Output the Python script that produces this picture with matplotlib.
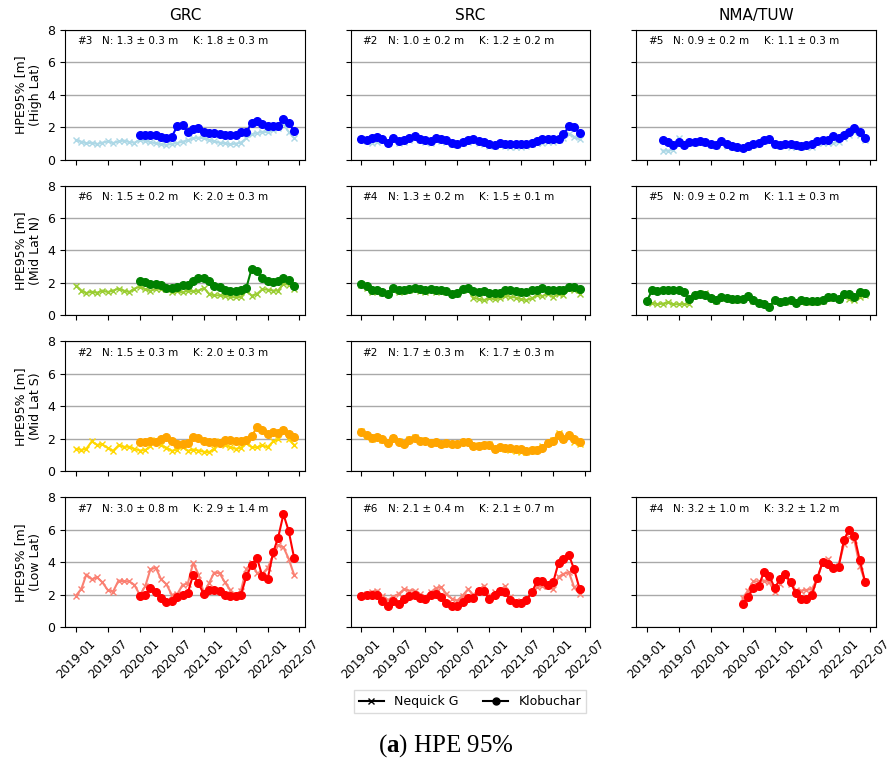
#!/usr/bin/env python

import pandas as pd
import matplotlib
matplotlib.use('Agg')
import matplotlib.pyplot as plt
import matplotlib.dates as mdates
from matplotlib.lines import Line2D

plt.rc("font", family="DejaVu Sans", size=9)
plt.rc("mathtext", fontset="custom", rm="Liberation Serif", bf="Liberation Serif:bold")

centres = ["GRC", "SRC", "NMA/TUW"]
regions = ["High Lat", "Mid Lat N", "Mid Lat S", "Low Lat"]
# (Nequick colour, Klobuchar colour) per region
region_colors = [("lightblue", "blue"), ("yellowgreen", "green"),
                 ("gold", "orange"), ("salmon", "red")]
tick_dates = pd.date_range("2019-01-01", "2022-07-01", freq="6MS")

# ---- High Lat ----
grc_high_n = [1.21,1.10,1.00,1.04,0.96,1.04,1.12,1.02,1.12,1.17,1.08,1.04,1.21,1.15,1.08,1.00,0.94,0.90,0.96,1.02,1.10,
              1.19,1.31,1.35,1.31,1.21,1.12,1.04,1.00,0.94,0.98,1.04,1.31,1.56,1.63,1.71,1.69,1.83,1.92,2.19,1.71,1.33]
grc_high_k = [1.52,1.52,1.52,1.52,1.40,1.35,1.40,2.04,2.10,1.73,1.88,1.94,1.71,1.63,1.63,1.56,1.52,1.52,1.52,1.67,
              1.67,2.27,2.35,2.21,2.04,2.04,2.08,2.52,2.25,1.75]
src_high_n = [1.25,1.15,1.05,1.10,1.20,1.05,1.25,1.05,1.10,1.20,1.30,1.20,1.10,1.05,1.20,1.15,1.10,0.95,0.90,1.00,1.10,
              1.15,1.05,0.95,0.85,0.85,0.90,0.85,0.80,0.80,0.80,0.85,0.95,1.00,1.05,1.10,1.10,1.20,1.35,1.60,1.40,1.25]
src_high_k = [1.29,1.23,1.31,1.38,1.29,1.04,1.35,1.13,1.19,1.33,1.44,1.29,1.21,1.15,1.31,1.27,1.21,1.02,0.98,1.08,1.21,
              1.27,1.15,1.10,0.94,0.92,1.04,0.98,0.98,0.96,0.96,0.98,1.04,1.15,1.25,1.27,1.27,1.29,1.56,2.04,2.00,1.63]
nma_high_n = [0.55,0.55,0.60,1.35,0.95,1.00,1.05,1.10,1.00,0.90,0.85,1.05,0.85,0.75,0.70,0.70,0.80,0.90,1.00,1.15,
              1.20,0.90,0.85,0.90,0.80,0.80,0.75,0.80,0.80,1.00,1.05,1.00,1.00,1.10,1.30,1.50,1.70,1.50,1.20]
nma_high_k = [1.19,1.06,0.88,1.08,0.92,1.08,1.10,1.17,1.10,0.98,0.92,1.15,0.98,0.85,0.75,0.71,0.85,0.96,1.04,1.23,
              1.25,0.98,0.92,0.98,0.94,0.90,0.83,0.90,0.94,1.17,1.21,1.23,1.48,1.31,1.54,1.69,1.96,1.67,1.33]

# ---- Mid Lat N ----
grc_midn_n = [1.84,1.53,1.38,1.46,1.40,1.53,1.44,1.53,1.65,1.53,1.44,1.65,1.77,1.61,1.53,1.61,1.65,1.65,1.42,1.48,1.42,
              1.53,1.48,1.53,1.69,1.32,1.24,1.24,1.20,1.15,1.11,1.15,1.53,1.22,1.32,1.61,1.59,1.53,1.53,1.94,1.90,1.63]
grc_midn_k = [2.14,2.04,1.94,1.94,1.86,1.67,1.69,1.77,1.88,1.90,2.14,2.33,2.31,2.14,1.84,1.77,1.59,1.53,1.53,1.57,
              1.71,2.87,2.76,2.31,2.10,2.06,2.14,2.31,2.19,1.79]
src_midn_n = [1.90,1.70,1.45,1.50,1.40,1.30,1.55,1.45,1.50,1.55,1.60,1.50,1.45,1.55,1.45,1.50,1.45,1.30,1.30,1.55,1.60,
              1.10,1.00,0.95,1.05,1.00,1.05,1.20,1.15,1.10,1.00,0.95,1.05,1.25,1.20,1.30,1.15,1.30,1.25,1.60,1.55,1.35]
src_midn_k = [1.94,1.81,1.59,1.59,1.46,1.32,1.67,1.59,1.55,1.65,1.67,1.61,1.55,1.61,1.55,1.57,1.51,1.34,1.36,1.65,1.67,
              1.48,1.46,1.48,1.38,1.36,1.38,1.55,1.55,1.48,1.44,1.44,1.57,1.57,1.67,1.59,1.59,1.59,1.59,1.77,1.73,1.63]
nma_midn_n = [0.91,0.75,0.70,0.72,0.80,0.68,0.70,0.70,0.70,1.25,1.35,1.40,1.10,0.90,1.10,1.05,1.00,0.95,1.00,1.15,0.90,
              0.75,0.70,0.60,0.90,0.80,0.85,0.90,0.75,0.80,0.80,0.85,0.85,0.90,1.05,1.05,1.00,1.20,1.00,0.95,1.15,1.25]
nma_midn_k = [0.91,1.57,1.48,1.57,1.59,1.57,1.59,1.42,1.01,1.24,1.32,1.26,1.07,0.95,1.13,1.07,1.01,0.99,1.03,1.22,0.95,
              0.74,0.68,0.54,0.95,0.85,0.91,0.97,0.76,0.97,0.87,0.87,0.89,0.95,1.11,1.13,1.03,1.30,1.32,1.15,1.44,1.36]

# ---- Mid Lat S ----
grc_mids_n = [1.38,1.32,1.38,1.84,1.63,1.65,1.44,1.26,1.59,1.51,1.51,1.38,1.28,1.30,1.55,1.92,1.59,1.46,1.26,1.34,1.51,
              1.26,1.34,1.28,1.20,1.18,1.38,1.88,1.59,1.51,1.38,1.44,1.75,1.48,1.48,1.59,1.48,1.84,1.96,2.56,1.96,1.63]
grc_mids_k = [1.79,1.79,1.88,1.79,2.00,2.10,1.84,1.71,1.65,1.75,2.12,2.08,1.88,1.79,1.79,1.73,1.90,1.94,1.84,1.84,
              1.90,2.16,2.72,2.52,2.29,2.41,2.37,2.56,2.27,2.14]
src_mids_n = [2.50,2.15,2.00,2.10,1.95,1.80,2.05,1.85,1.75,2.00,2.10,1.90,1.85,1.80,1.80,1.70,1.75,1.65,1.70,1.80,1.80,
              1.55,1.60,1.60,1.65,1.40,1.45,1.35,1.30,1.25,1.20,1.20,1.25,1.40,1.55,1.75,1.90,2.35,2.00,2.15,1.80,1.65]
src_mids_k = [2.41,2.21,2.04,2.12,1.96,1.73,2.08,1.79,1.71,1.92,2.08,1.86,1.84,1.77,1.79,1.69,1.75,1.65,1.69,1.79,1.79,
              1.55,1.57,1.63,1.59,1.38,1.48,1.44,1.46,1.38,1.36,1.28,1.30,1.34,1.44,1.75,1.84,2.23,1.98,2.23,1.98,1.79]

# ---- Low Lat ----
grc_low_n = [1.94,2.37,3.24,2.95,3.07,2.76,2.29,2.19,2.87,2.82,2.82,2.60,1.98,2.52,3.55,3.67,2.95,2.64,2.00,2.02,2.60,
             2.68,3.96,3.24,2.10,2.74,3.36,3.32,2.76,2.29,1.98,2.25,3.59,3.94,3.34,3.28,3.65,4.41,5.03,4.93,4.21,3.22]
grc_low_k = [1.90,1.96,2.43,2.16,1.79,1.53,1.59,1.84,1.96,2.10,3.24,2.70,2.02,2.31,2.29,2.25,1.98,1.92,1.92,1.98,
             3.13,3.84,4.25,3.15,2.97,4.60,5.48,6.95,5.92,4.27]
src_low_n = [1.94,2.04,2.19,2.25,1.92,1.67,1.88,2.04,2.33,2.25,2.25,2.04,1.88,2.14,2.41,2.45,2.04,1.75,1.63,1.94,2.33,
             2.00,2.25,2.56,1.94,2.14,2.25,2.52,1.84,1.53,1.63,1.69,2.14,2.45,2.56,2.56,2.35,3.11,3.28,3.38,2.45,2.04]
src_low_k = [1.94,2.00,2.00,2.00,1.63,1.30,1.63,1.42,1.73,1.92,1.98,1.79,1.75,2.00,2.04,1.88,1.51,1.30,1.30,1.57,1.77,
             1.81,2.25,2.21,1.71,2.00,2.25,2.14,1.67,1.48,1.51,1.69,2.14,2.82,2.87,2.60,2.76,3.98,4.19,4.45,3.55,2.37]
nma_low_n = [1.79,2.25,2.82,2.82,2.87,2.76,2.14,2.66,3.18,2.66,2.29,2.25,2.29,2.35,2.97,4.00,4.21,3.69,3.79,5.13,
             5.55,5.34,3.79,2.82]
nma_low_k = [1.42,1.88,2.41,2.56,3.42,3.13,2.41,2.99,3.28,2.76,2.08,1.71,1.71,2.00,3.03,4.00,3.90,3.63,3.73,5.38,
             6.00,5.61,4.16,2.80]

# first month of each series
start_n = {"GRC": "2019-01", "SRC": "2019-01"}
start_k = {"GRC": "2020-01", "SRC": "2019-01"}
nma_start = {"High Lat": "2019-04", "Mid Lat N": "2019-01", "Low Lat": "2020-07"}

series = {
    ("High Lat", "GRC"): (grc_high_n, grc_high_k), ("High Lat", "SRC"): (src_high_n, src_high_k),
    ("High Lat", "NMA/TUW"): (nma_high_n, nma_high_k),
    ("Mid Lat N", "GRC"): (grc_midn_n, grc_midn_k), ("Mid Lat N", "SRC"): (src_midn_n, src_midn_k),
    ("Mid Lat N", "NMA/TUW"): (nma_midn_n, nma_midn_k),
    ("Mid Lat S", "GRC"): (grc_mids_n, grc_mids_k), ("Mid Lat S", "SRC"): (src_mids_n, src_mids_k),
    ("Low Lat", "GRC"): (grc_low_n, grc_low_k), ("Low Lat", "SRC"): (src_low_n, src_low_k),
    ("Low Lat", "NMA/TUW"): (nma_low_n, nma_low_k),
}
stats = {
    ("High Lat", "GRC"): ("#3", "1.3 ± 0.3", "1.8 ± 0.3"), ("High Lat", "SRC"): ("#2", "1.0 ± 0.2", "1.2 ± 0.2"),
    ("High Lat", "NMA/TUW"): ("#5", "0.9 ± 0.2", "1.1 ± 0.3"),
    ("Mid Lat N", "GRC"): ("#6", "1.5 ± 0.2", "2.0 ± 0.3"), ("Mid Lat N", "SRC"): ("#4", "1.3 ± 0.2", "1.5 ± 0.1"),
    ("Mid Lat N", "NMA/TUW"): ("#5", "0.9 ± 0.2", "1.1 ± 0.3"),
    ("Mid Lat S", "GRC"): ("#2", "1.5 ± 0.3", "2.0 ± 0.3"), ("Mid Lat S", "SRC"): ("#2", "1.7 ± 0.3", "1.7 ± 0.3"),
    ("Low Lat", "GRC"): ("#7", "3.0 ± 0.8", "2.9 ± 1.4"), ("Low Lat", "SRC"): ("#6", "2.1 ± 0.4", "2.1 ± 0.7"),
    ("Low Lat", "NMA/TUW"): ("#4", "3.2 ± 1.0", "3.2 ± 1.2"),
}

fig, axes = plt.subplots(4, 3, figsize=(8.92, 7.62), dpi=100, sharex=True, sharey=True)
fig.subplots_adjust(left=0.073, right=0.982, top=0.961, bottom=0.177, wspace=0.19, hspace=0.2)

for i, region in enumerate(regions):
    cn, ck = region_colors[i]
    for j, centre in enumerate(centres):
        ax = axes[i, j]
        if (region, centre) not in series:
            ax.set_axis_off()
            continue
        n_vals, k_vals = series[(region, centre)]
        if centre == "NMA/TUW":
            sn = sk = nma_start[region]
        else:
            sn, sk = start_n[centre], start_k[centre]
        tn = pd.date_range(sn + "-01", periods=len(n_vals), freq="MS")
        tk = pd.date_range(sk + "-01", periods=len(k_vals), freq="MS")
        ax.plot(tn, n_vals, color=cn, marker="x", ms=4, lw=1.5, zorder=3)
        ax.plot(tk, k_vals, color=ck, marker="o", ms=5.5, lw=1.5, zorder=4)
        ax.grid(True, axis="y", color="darkgray", lw=1)
        ax.set_axisbelow(True)
        num, n_s, k_s = stats[(region, centre)]
        ax.text(0.05, 0.91, num, transform=ax.transAxes, fontsize=7.5, va="center")
        ax.text(0.155, 0.91, f"N: {n_s} m", transform=ax.transAxes, fontsize=7.5, va="center")
        ax.text(0.535, 0.91, f"K: {k_s} m", transform=ax.transAxes, fontsize=7.5, va="center")
        if i == 0:
            ax.set_title(centre, fontsize=11, pad=7)
        if j == 0:
            ax.set_ylabel(f"HPE95% [m]\n({region})", fontsize=9)
        ax.tick_params(labelsize=9)

axes[0, 0].set_ylim(0, 8)
axes[0, 0].set_yticks([0, 2, 4, 6, 8])
axes[0, 0].set_xticks(tick_dates)
axes[0, 0].xaxis.set_major_formatter(mdates.DateFormatter("%Y-%m"))
for ax in axes[3, :]:
    for lbl in ax.get_xticklabels():
        lbl.set_rotation(45)
        lbl.set_ha("center")
        lbl.set_fontsize(8.5)

handles = [Line2D([], [], color="k", marker="x", ms=4, lw=1.5, label="Nequick G"),
           Line2D([], [], color="k", marker="o", ms=5, lw=1.5, label="Klobuchar")]
fig.legend(handles=handles, loc="center", bbox_to_anchor=(0.527, 0.079), ncol=2,
           fontsize=9, frameon=True, fancybox=False, edgecolor="lightgray")

fig.text(0.5, 0.022, r"($\mathbf{a}$) HPE 95%", ha="center", va="center",
         fontsize=18, family="Liberation Serif")

fig.savefig("out.png", dpi=100)
